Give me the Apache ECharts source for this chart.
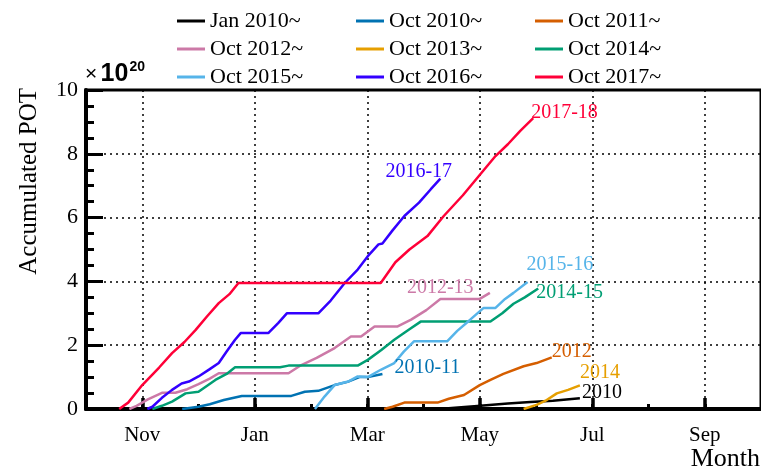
<!DOCTYPE html>
<html>
<head>
<meta charset="utf-8">
<script src="https://cdn.jsdelivr.net/npm/echarts@6/dist/echarts.min.js"></script>
<style>
  html, body { margin: 0; padding: 0; background: #fff; }
  #main { width: 761px; height: 475px; }
</style>
</head>
<body>
<div id="main"></div>
<script>
// x = months since Oct 1, y = accumulated POT (x 1e20)
const monthTicks = [1, 3, 5, 7, 9, 11];
const monthNames = ['Nov', 'Jan', 'Mar', 'May', 'Jul', 'Sep'];

const seriesNames = ['Jan 2010~', 'Oct 2010~', 'Oct 2011~', 'Oct 2012~', 'Oct 2013~',
    'Oct 2014~', 'Oct 2015~', 'Oct 2016~', 'Oct 2017~'];
const seasonTags = ['2010', '2010-11', '2012', '2012-13', '2014', '2014-15', '2015-16', '2016-17', '2017-18'];

const pot2010 = [[6.3, 0], [6.5, 0.03], [6.9, 0.09], [7.5, 0.17], [7.9, 0.22], [8.3, 0.26], [8.78, 0.34]];
const pot2010_11 = [[1.71, 0], [2.0, 0.07], [2.2, 0.15], [2.45, 0.28], [2.77, 0.41], [3.65, 0.41],
    [3.89, 0.54], [4.13, 0.57], [4.42, 0.75], [4.65, 0.85], [4.86, 1.0], [5.01, 1.0], [5.27, 1.1]];
const pot2011_12 = [[5.3, 0], [5.45, 0.07], [5.66, 0.2], [6.25, 0.2], [6.45, 0.32], [6.72, 0.44],
    [7.0, 0.75], [7.2, 0.92], [7.42, 1.1], [7.78, 1.34], [8.01, 1.44], [8.28, 1.62]];
const pot2012_13 = [[0.77, 0], [0.9, 0.1], [1.1, 0.3], [1.36, 0.51], [1.59, 0.51], [1.8, 0.62],
    [2.0, 0.78], [2.2, 0.95], [2.36, 1.12], [3.6, 1.12], [3.8, 1.35], [4.1, 1.6], [4.42, 1.91],
    [4.71, 2.27], [4.89, 2.27], [5.13, 2.59], [5.54, 2.59], [5.78, 2.8], [6.05, 3.1], [6.3, 3.45],
    [7.0, 3.45], [7.18, 3.64]];
const pot2013_14 = [[7.78, 0], [8.01, 0.13], [8.19, 0.28], [8.37, 0.49], [8.57, 0.6], [8.78, 0.74]];
const pot2014_15 = [[1.18, 0], [1.35, 0.1], [1.53, 0.23], [1.77, 0.49], [2.0, 0.54], [2.3, 0.91],
    [2.5, 1.1], [2.65, 1.31], [3.45, 1.31], [3.6, 1.36], [4.83, 1.36], [5.01, 1.54], [5.25, 1.85],
    [5.48, 2.17], [5.75, 2.5], [5.95, 2.74], [7.19, 2.74], [7.4, 3.0], [7.6, 3.3], [7.8, 3.5], [8.04, 3.78]];
const pot2015_16 = [[4.07, 0], [4.24, 0.39], [4.42, 0.75], [4.66, 0.86], [4.83, 1.02], [5.01, 1.0],
    [5.24, 1.23], [5.48, 1.44], [5.65, 1.8], [5.83, 2.12], [6.42, 2.12], [6.6, 2.45], [6.83, 2.8],
    [7.07, 3.17], [7.28, 3.17], [7.45, 3.45], [7.6, 3.64], [7.85, 3.98]];
const pot2016_17 = [[1.09, 0], [1.18, 0.07], [1.35, 0.35], [1.53, 0.6], [1.7, 0.8], [1.83, 0.86],
    [2.0, 1.02], [2.2, 1.25], [2.36, 1.44], [2.5, 1.8], [2.65, 2.17], [2.75, 2.38], [3.24, 2.38],
    [3.42, 2.7], [3.57, 3.0], [4.13, 3.0], [4.35, 3.4], [4.6, 3.95], [4.83, 4.37], [5.01, 4.79],
    [5.2, 5.16], [5.27, 5.19], [5.45, 5.6], [5.66, 6.05], [5.92, 6.47], [6.13, 6.89], [6.3, 7.22]];
const pot2017_18 = [[0.59, 0], [0.75, 0.2], [1.0, 0.75], [1.3, 1.3], [1.53, 1.75], [1.75, 2.1],
    [1.95, 2.48], [2.15, 2.9], [2.36, 3.32], [2.55, 3.6], [2.71, 3.95], [5.24, 3.95], [5.5, 4.6],
    [5.75, 5.0], [6.07, 5.42], [6.36, 6.05], [6.7, 6.7], [7.01, 7.36], [7.28, 7.93], [7.5, 8.3],
    [7.72, 8.72], [7.95, 9.12]];

const allData = [pot2010, pot2010_11, pot2011_12, pot2012_13, pot2013_14,
    pot2014_15, pot2015_16, pot2016_17, pot2017_18];

const colors = ['#000000', '#0072B2', '#D55E00', '#CC79A7', '#E69F00',
    '#009E73', '#56B4E9', '#3300FF', '#FF0038'];
// 曲线末端标签的偏移
const tagOffsets = [[2, -5], [12, -6], [0, -6], [-83, -5], [0, -13], [-2, 4], [-1, -17], [-55, -7], [-2, -5]];

const serif = '"Liberation Serif", "Times New Roman", serif';
const chart = echarts.init(document.getElementById('main'));

const series = allData.map((d, i) => ({
    name: seriesNames[i],
    type: 'line',
    xAxisIndex: 0,
    data: d,
    showSymbol: false,
    symbol: 'none',
    color: colors[i],
    lineStyle: { width: 2.5, color: colors[i] },
    z: 3,
    endLabel: {
        show: true,
        formatter: seasonTags[i],
        color: colors[i],
        fontFamily: serif,
        fontSize: 20,
        distance: 0,
        offset: tagOffsets[i]
    }
}));

const option = {
    animation: false,
    backgroundColor: '#ffffff',
    legend: {
        left: 172,
        top: 5,
        width: 545,
        icon: 'rect',
        itemWidth: 28,
        itemHeight: 3,
        itemGap: 6,
        data: seriesNames,
        textStyle: { fontFamily: serif, fontSize: 22, color: '#000', width: 140, lineHeight: 21 }
    },
    grid: {
        left: 86,
        right: -5,
        top: 90,
        bottom: 66,
        show: true,
        borderColor: '#000',
        borderWidth: 3
    },
    xAxis: [{
        type: 'value',
        min: 0,
        max: 12,
        position: 'bottom',
        axisLine: { lineStyle: { color: '#000', width: 4 } },
        axisTick: { inside: true, length: 11, customValues: monthTicks, lineStyle: { color: '#000', width: 3.5 } },
        axisLabel: {
            customValues: monthTicks,
            formatter: v => monthNames[monthTicks.indexOf(v)],
            fontFamily: serif, fontSize: 21, color: '#000', margin: 16
        },
        splitLine: { show: true, lineStyle: { color: '#000', type: [2, 4], width: 1.5 } }
    }, {
        type: 'value',
        min: 0,
        max: 12,
        interval: 1,
        position: 'bottom',
        axisLine: { show: false },
        axisTick: { inside: true, length: 5, lineStyle: { color: '#000', width: 3 } },
        axisLabel: { show: false },
        splitLine: { show: false }
    }],
    yAxis: {
        type: 'value',
        min: 0,
        max: 10,
        interval: 2,
        axisLine: { show: true, lineStyle: { color: '#000', width: 4 } },
        axisTick: { show: true, inside: true, length: 17, lineStyle: { color: '#000', width: 3 } },
        minorTick: { show: true, splitNumber: 4, length: 8, lineStyle: { color: '#000', width: 3 } },
        axisLabel: { fontFamily: serif, fontSize: 22, color: '#000', margin: 8 },
        splitLine: { show: true, lineStyle: { color: '#000', type: [2, 4], width: 1.5 } }
    },
    graphic: [{
        type: 'text',
        left: 85,
        top: 60,
        style: {
            text: '{m|×} {b|10}{s|20}',
            rich: {
                m: { fontFamily: 'Liberation Sans', fontSize: 21, fill: '#000' },
                b: { fontFamily: 'Liberation Sans', fontSize: 25, fontWeight: 'bold', fill: '#000' },
                s: { fontFamily: 'Liberation Sans', fontSize: 14, fontWeight: 'bold', fill: '#000', verticalAlign: 'top', padding: [0, 0, 14, 1] }
            }
        }
    }, {
        type: 'text',
        x: 29,
        y: 88,
        rotation: Math.PI / 2,
        style: {
            text: 'Accumulated POT',
            fontFamily: serif,
            fontSize: 25,
            fill: '#000',
            align: 'right',
            verticalAlign: 'middle'
        }
    }, {
        type: 'text',
        right: 1,
        top: 446,
        style: { text: 'Month', fontFamily: serif, fontSize: 26, fill: '#000' }
    }],
    series
};

chart.setOption(option);
</script>
</body>
</html>
